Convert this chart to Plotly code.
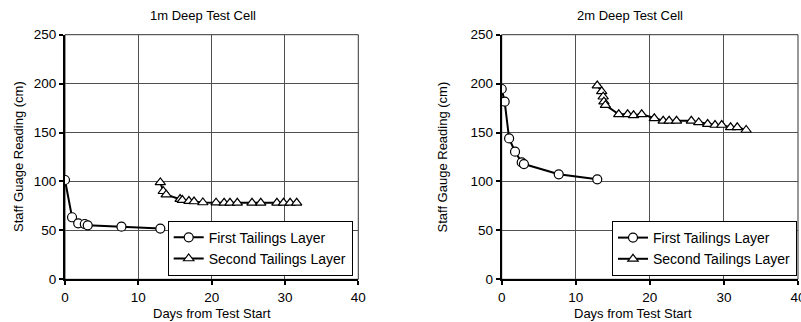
import plotly.graph_objects as go

# 1m cell
d1_first_x = [0, 0.96, 1.8, 2.7, 3.1, 7.7, 13.0]
d1_first_y = [101.5, 63.4, 57.2, 56.5, 55.2, 53.8, 51.8]
d1_second_x = [13.0, 13.4, 13.8, 15.7, 16.0, 16.9, 17.6, 18.8, 20.6, 21.7, 22.5, 23.5, 25.5, 26.7, 28.9, 29.8, 30.7, 31.6]
d1_second_y = [99, 90, 86.5, 82, 81, 80, 79.5, 78.5, 78.3, 78.2, 78.2, 78.2, 78.2, 78.2, 78.2, 78.2, 78.2, 78.2]

# 2m cell
d2_first_x = [0, 0.4, 1.0, 1.8, 2.7, 3.0, 7.7, 12.9]
d2_first_y = [194.5, 181.5, 144, 130.4, 119.5, 117.8, 107.3, 102.2]
d2_second_x = [12.9, 13.5, 13.7, 13.8, 14.0, 15.8, 17.0, 17.8, 18.9, 20.6, 21.8, 22.6, 23.6, 25.6, 26.6, 27.8, 28.8, 29.7, 30.9, 31.8, 33.0]
d2_second_y = [198, 192, 186.6, 181.5, 178, 168.6, 168.6, 167.6, 168.6, 164.5, 162, 162, 162, 162, 160.4, 158.7, 157.7, 157.7, 155.3, 155.3, 152.6]

titles = ["1m Deep Test Cell", "2m Deep Test Cell"]
ytitles = ["Staff Guage Reading (cm)", "Staff Gauge Reading (cm)"]
xtitle = "Days from Test Start"
names = ["First Tailings Layer", "Second Tailings Layer"]

FONT = "Liberation Sans, Arial, sans-serif"
FS = 13.5
FT = 13
fig = go.Figure()

W, H = 801, 322
xdom = [[65 / W, 358.3 / W], [501.7 / W, 798 / W]]
ydom = [(H - 279.3) / H, (H - 34.7) / H]
ytitle_x = [18, 441.5]
title_x = [202.5, 630]
xtitle_x = [211.7, 633]

datasets = [(d1_first_x, d1_first_y, d1_second_x, d1_second_y),
            (d2_first_x, d2_first_y, d2_second_x, d2_second_y)]

for i, (fx, fy, sx, sy) in enumerate(datasets):
    xa = "x" if i == 0 else "x2"
    ya = "y" if i == 0 else "y2"
    lg = "legend" if i == 0 else "legend2"
    fig.add_trace(go.Scatter(x=fx, y=fy, mode="lines+markers", name=names[0],
                             xaxis=xa, yaxis=ya, legend=lg,
                             line=dict(color="black", width=2),
                             marker=dict(symbol="circle", size=9, color="white",
                                         line=dict(color="black", width=1.2))))
    fig.add_trace(go.Scatter(x=sx, y=sy, mode="lines+markers", name=names[1],
                             xaxis=xa, yaxis=ya, legend=lg,
                             line=dict(color="black", width=2),
                             marker=dict(symbol="triangle-up", size=9, color="white",
                                         line=dict(color="black", width=1.2))))

axis_common = dict(showgrid=True, gridcolor="#505050", gridwidth=1, zeroline=False,
                   showline=True, linecolor="black", linewidth=2, mirror=False,
                   ticks="outside", ticklen=4, tickcolor="black", tickwidth=1.5,
                   automargin=False, ticklabeloverflow="allow",
                   tickfont=dict(family=FONT, size=FS, color="black"))

for i in range(2):
    sfx = "" if i == 0 else "2"
    fig.update_layout(**{
        "xaxis" + sfx: dict(axis_common, domain=xdom[i], range=[0, 40], dtick=10,
                            anchor="y" + sfx),
        "yaxis" + sfx: dict(axis_common, domain=ydom, range=[0, 250], dtick=50,
                            anchor="x" + sfx),
    })
    # border on top/right
    fig.add_shape(type="rect", xref="x" + sfx + " domain", yref="y" + sfx + " domain",
                  x0=0, x1=1, y0=0, y1=1, line=dict(color="#333", width=1), layer="below")
    fig.add_annotation(text=titles[i], xref="paper", yref="paper",
                       x=title_x[i] / W, y=(H - 15) / H,
                       showarrow=False, xanchor="center", yanchor="middle",
                       font=dict(family=FONT, size=FT, color="black"))
    fig.add_annotation(text=xtitle, xref="paper", yref="paper",
                       x=xtitle_x[i] / W, y=(H - 313) / H,
                       showarrow=False, xanchor="center", yanchor="middle",
                       font=dict(family=FONT, size=FT, color="black"))
    fig.add_annotation(text=ytitles[i], xref="paper", yref="paper",
                       x=ytitle_x[i] / W, y=(ydom[0] + ydom[1]) / 2, textangle=-90,
                       showarrow=False, xanchor="center", yanchor="middle",
                       font=dict(family=FONT, size=FT, color="black"))

legend_common = dict(bgcolor="white", bordercolor="black", borderwidth=1,
                     font=dict(family=FONT, size=14, color="black"),
                     xanchor="right", yanchor="bottom", tracegroupgap=0,
                     itemsizing="trace")
fig.update_layout(
    width=W, height=H,
    margin=dict(l=0, r=0, t=0, b=0),
    paper_bgcolor="white", plot_bgcolor="white",
    legend=dict(legend_common, x=352.7 / W, y=(H - 275.7) / H),
    legend2=dict(legend_common, x=797 / W, y=(H - 276) / H),
)

fig.write_html("out.html", config={"displayModeBar": False},
               post_script="document.body.style.margin='0';document.body.style.overflow='hidden';")
